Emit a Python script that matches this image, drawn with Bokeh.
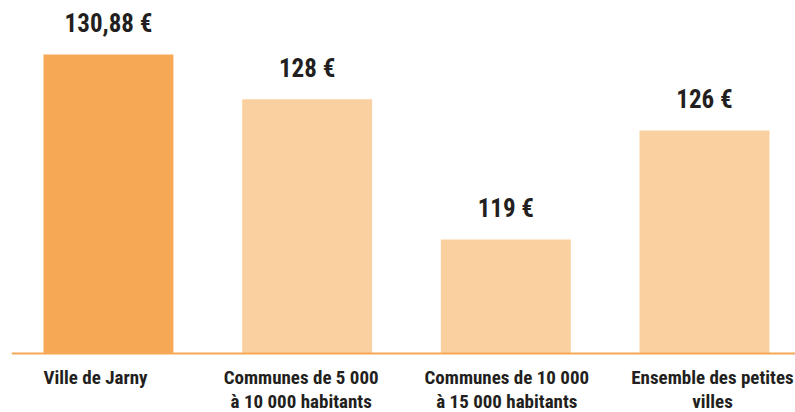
from bokeh.plotting import figure
from bokeh.models import ColumnDataSource, Range1d, Span
from bokeh.core.properties import value
from bokeh.embed import file_html
from bokeh.resources import INLINE

categories = ["Ville de Jarny", "Communes de 5 000\nà 10 000 habitants",
              "Communes de 10 000\nà 15 000 habitants", "Ensemble des petites\nvilles"]
values = [130.88, 128, 119, 126]
value_labels = ["130,88 €", "128 €", "119 €", "126 €"]
bar_colors = ["#F7A855", "#FBD0A0", "#FBD0A0", "#FBD0A0"]

TEXT = "#231F20"
FONT = value("Roboto Condensed")
BASE = 111.68

xs = list(range(len(categories)))
# category labels are spread slightly wider than the bars in the original layout
label_xs = [i * 1.035 - 0.065 for i in xs]
src = ColumnDataSource(dict(x=xs, lx=label_xs, top=values, color=bar_colors,
                            label=value_labels, cat=categories, base=[BASE] * len(xs)))

p = figure(width=795, height=412, output_backend="svg", toolbar_location=None,
           x_range=Range1d(-0.488, 3.458), y_range=Range1d(107.89, 134.35),
           min_border_left=11, min_border_right=0, min_border_top=0, min_border_bottom=0)
p.axis.visible = False
p.grid.visible = False
p.outline_line_color = None

p.vbar(x="x", top="top", bottom=BASE, width=0.654, color="color", source=src, line_color=None)
p.add_layout(Span(location=BASE, dimension="width", line_color="#F7A855", line_width=2))

p.text(x="x", y="top", text="label", source=src, y_offset=-31,
       text_align="center", text_baseline="alphabetic",
       text_font=FONT, text_font_size="25px",
       text_font_style="bold", text_color=TEXT)

p.text(x="lx", y="base", text="cat", source=src, y_offset=12.5,
       text_align="center", text_baseline="top", text_line_height=1.04,
       text_font=FONT, text_font_size="19px",
       text_font_style="bold", text_color=TEXT)

open("out.html", "w").write(file_html(p, INLINE))
